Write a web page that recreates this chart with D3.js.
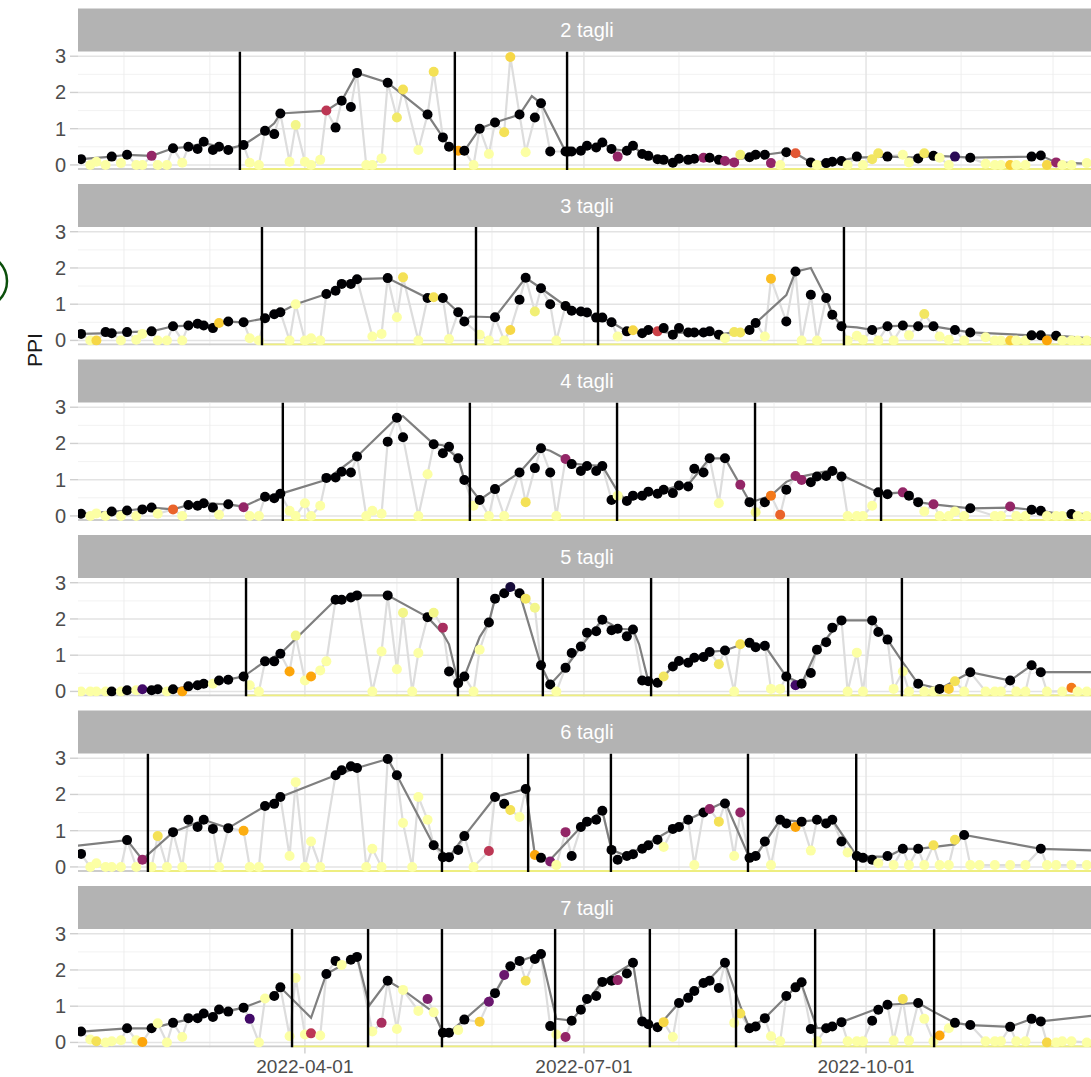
<!DOCTYPE html>
<html>
<head>
<meta charset="utf-8">
<script src="https://cdnjs.cloudflare.com/ajax/libs/d3/7.8.5/d3.min.js"></script>
<style>
  body { margin: 0; background: #fff; }
  svg { display: block; }
  text { font-family: "Liberation Sans", Arial, Helvetica, sans-serif; }
</style>
</head>
<body>
<div id="chart"></div>
<script>
// facet labels
const panelNames = ["2 tagli", "3 tagli", "4 tagli", "5 tagli", "6 tagli", "7 tagli"];
const yTicks = [0, 1, 2, 3];
const xTickLabels = ["2022-04-01", "2022-07-01", "2022-10-01"];

// observations: [days after 1 Jan 2022, PPI, colour value (0 = black ... 1 = pale yellow)]
const obs2 = [[17,.16,0],[20,0,1],[22,.09,1],[25,0,1],[27,.23,0],[30,.05,1],[32,.28,0],[35,0,1],[37,0,1],[40,.25,.4],
  [42,0,1],[45,0,1],[47,.46,0],[50,.06,1],[52,.5,0],[55,.44,0],[57,.64,0],[60,.41,0],[62,.5,0],[65,.41,0],
  [70,.55,0],[72,.06,1],[75,0,1],[77,.94,0],[80,.85,0],[82,1.42,0],[85,.09,1],[87,1.1,.97],[90,.09,1],[92,0,1],
  [95,.14,1],[97,1.5,.5],[100,1.03,0],[102,1.77,0],[105,1.6,0],[107,2.54,0],[110,0,1],[112,0,1],[115,.18,1],[117,2.27,0],
  [120,1.31,.94],[122,2.08,.92],[127,.41,1],[130,1.39,0],[132,2.57,.92],[135,.76,0],[137,.5,0],[140,.39,.8],[142,.39,0],[145,0,1],
  [147,1.0,0],[150,.3,1],[152,1.17,0],[155,.9,.92],[157,2.98,.9],[160,1.39,0],[162,.35,1],[165,1.31,0],[167,1.7,0],[170,.37,0],
  [175,.37,0],[176,.37,0],[177,.37,0],[180,.39,0],[182,.53,0],[185,.48,0],[187,.62,0],[190,.44,0],[192,.23,.4],[195,.39,0],
  [197,.53,0],[200,.3,0],[202,.25,0],[205,.16,0],[207,.14,0],[210,.06,0],[212,.17,0],[215,.14,0],[217,.17,0],[220,.2,.4],
  [222,.2,0],[225,.14,0],[227,.11,.4],[230,.07,.4],[232,.28,.95],[235,.21,0],[237,.28,0],[240,.28,0],[242,.05,.4],[245,0,1],
  [247,.35,0],[250,.32,.62],[255,.07,0],[257,0,1],[260,.05,0],[262,.09,0],[265,.11,0],[267,0,1],[270,.23,0],[272,0,1],
  [275,.16,.93],[277,.32,.93],[280,.23,0],[285,.28,1],[287,.07,1],[290,.18,0],[292,.32,.93],[295,.25,0],[297,.2,1],[300,0,1],
  [302,.23,.15],[307,.2,0],[312,.03,1],[315,0,1],[317,0,1],[320,0,.88],[322,0,1],[325,0,1],[327,.23,0],[330,.26,0],
  [332,0,.9],[335,.07,.4],[337,0,1],[340,0,1],[345,.05,1]];
const obs3 = [[17,.18,0],[20,0,1],[22,0,.9],[25,.23,0],[27,.2,0],[30,0,1],[32,.23,0],[35,.02,1],[37,.18,1],[40,.25,0],
  [42,0,1],[45,0,1],[47,.39,0],[50,0,1],[52,.41,0],[55,.46,0],[57,.41,0],[60,.34,0],[62,.48,.88],[65,.52,0],
  [70,.5,0],[72,.06,1],[75,0,1],[77,.61,0],[80,.72,0],[82,.78,0],[85,0,1],[87,1.0,1],[90,0,1],[92,.06,1],
  [95,0,1],[97,1.28,0],[100,1.37,0],[102,1.56,0],[105,1.56,0],[107,1.69,0],[112,.11,1],[115,.18,1],[117,1.72,0],[120,.64,1],
  [122,1.74,.92],[127,0,1],[130,1.17,0],[132,1.19,.92],[135,1.17,0],[137,.04,1],[140,.78,0],[142,.52,0],[147,.16,1],[150,0,1],
  [152,.64,0],[155,0,1],[157,.29,.9],[160,1.12,0],[162,1.73,0],[165,.8,.95],[167,1.44,0],[170,1.0,0],[172,0,1],[175,.95,0],
  [177,.82,0],[180,.8,0],[182,.77,0],[185,.63,0],[187,.63,0],[190,.5,0],[192,.11,1],[195,.25,0],[197,.28,.9],[200,.2,0],
  [202,.29,0],[205,.25,.55],[207,.34,0],[210,.16,0],[212,.34,0],[215,.22,0],[217,.22,0],[220,.22,0],[222,.25,0],[225,.16,0],
  [227,.06,1],[230,.23,.93],[232,.22,.93],[235,.29,0],[237,.48,0],[240,.11,1],[242,1.7,.85],[247,.52,0],[250,1.9,0],[252,0,1],
  [255,1.26,0],[257,0,1],[260,1.17,0],[262,.71,0],[265,.39,0],[267,0,1],[270,.13,1],[272,.02,1],[275,.29,0],[277,0,1],
  [280,.39,0],[282,0,1],[285,.41,0],[287,.14,1],[290,.39,0],[292,.73,.93],[295,.39,0],[297,.11,1],[300,.02,1],[302,.29,0],
  [305,0,1],[307,.22,0],[312,.09,1],[315,0,1],[317,0,1],[320,0,.88],[322,0,1],[325,0,1],[327,.14,0],[330,.14,0],
  [332,0,.8],[335,.13,0],[337,0,1],[340,0,1],[342,0,1],[345,0,1]];
const obs4 = [[17,.06,0],[20,0,1],[22,.07,1],[25,0,1],[27,.12,0],[30,0,1],[32,.15,0],[35,0,1],[37,.18,0],[40,.23,0],
  [42,.06,1],[47,.18,.65],[50,0,1],[52,.3,0],[55,.28,0],[57,.35,0],[60,.23,0],[62,.03,1],[65,.32,0],[70,.24,.4],
  [72,0,1],[75,0,1],[77,.53,0],[80,.49,0],[82,.61,0],[85,.14,1],[87,0,1],[90,.35,1],[92,0,1],[95,.28,1],
  [97,1.05,0],[100,1.06,0],[102,1.22,0],[105,1.2,0],[107,1.64,0],[110,0,1],[112,.14,1],[115,.06,1],[117,2.05,0],[120,2.71,0],
  [122,2.17,0],[127,0,1],[130,1.15,1],[132,1.98,0],[135,1.73,0],[137,1.91,0],[140,1.59,0],[142,.99,0],[145,.28,1],[147,.44,0],
  [150,0,1],[152,.74,0],[155,0,1],[160,1.2,0],[162,.38,.92],[165,1.32,0],[167,1.87,0],[170,1.2,0],[172,0,1],[175,1.57,.4],
  [177,1.43,0],[180,1.24,0],[182,1.38,0],[185,1.24,0],[187,1.38,0],[190,.44,0],[192,.56,1],[195,.41,0],[197,.56,0],[200,.56,0],
  [202,.67,0],[205,.61,0],[207,.72,0],[210,.63,0],[212,.84,0],[215,.81,0],[217,1.3,0],[220,1.2,0],[222,1.59,0],[225,.35,1],
  [227,1.59,0],[232,.86,.4],[235,.38,0],[237,.1,.97],[240,.38,0],[242,.56,.7],[245,.03,.65],[247,.72,0],[250,1.1,.4],[252,.99,.4],
  [255,.93,0],[257,1.09,0],[260,1.1,0],[262,1.24,0],[265,1.09,0],[267,0,1],[270,0,1],[272,0,1],[275,.28,1],[277,.65,0],
  [280,.6,0],[285,.65,.4],[287,.56,0],[290,.38,0],[292,.12,1],[295,.32,.4],[297,0,1],[300,0,1],[302,.12,1],[305,0,1],
  [307,.21,0],[315,0,1],[317,0,1],[320,.26,.4],[322,0,1],[325,0,1],[327,.17,0],[330,.14,0],[332,0,1],[335,0,1],
  [337,0,1],[340,.05,0],[342,0,1],[345,0,1]];
const obs5 = [[17,0,1],[20,0,1],[22,0,1],[25,0,1],[27,0,0],[30,0,1],[32,.03,0],[35,.03,1],[37,.06,.2],[40,.03,0],
  [42,.06,0],[45,0,1],[47,.06,0],[50,0,.8],[52,.14,0],[55,.17,0],[57,.21,0],[60,.21,1],[62,.3,0],[65,.32,0],
  [70,.41,0],[72,.17,1],[75,0,1],[77,.83,0],[80,.83,0],[82,1.04,0],[85,.55,.8],[87,1.54,.97],[90,.3,1],[92,.41,.8],
  [95,.58,1],[97,.83,1],[100,2.53,0],[102,2.53,0],[105,2.59,0],[107,2.65,0],[112,0,1],[115,1.1,1],[117,2.65,0],[120,.61,1],
  [122,2.17,.97],[125,0,1],[127,1.06,1],[130,2.05,0],[132,2.17,.97],[135,1.76,.45],[137,.55,0],[140,.23,0],[142,.41,0],[145,0,1],
  [147,1.15,1],[150,1.9,0],[152,2.56,0],[155,2.71,0],[157,2.88,.1],[160,2.71,0],[162,2.56,.93],[165,2.31,.97],[167,.72,0],[170,.19,0],
  [172,0,1],[175,.65,0],[177,1.06,0],[180,1.24,0],[182,1.62,0],[185,1.66,0],[187,1.98,0],[190,1.69,0],[192,1.73,0],[195,1.52,0],
  [197,1.71,0],[200,.3,0],[202,.28,0],[205,.24,0],[207,.41,.93],[210,.69,0],[212,.84,0],[215,.79,0],[217,.93,0],[220,.95,0],
  [222,1.09,0],[225,.75,.93],[227,1.13,0],[230,0,1],[232,1.3,.92],[235,1.34,0],[237,1.22,0],[240,1.26,0],[242,.07,1],[245,.07,1],
  [247,.41,0],[250,.17,.2],[252,.21,0],[255,.51,0],[257,1.15,0],[260,1.36,0],[262,1.76,0],[265,1.96,0],[267,0,1],[270,1.07,1],
  [272,0,1],[275,1.96,0],[277,1.64,0],[280,1.43,0],[282,.07,1],[285,.55,1],[287,0,1],[290,.21,0],[292,0,1],[295,0,1],
  [297,.07,0],[300,.07,.88],[302,.28,.92],[305,0,1],[307,.53,0],[312,0,1],[315,0,1],[317,0,1],[320,.3,0],[322,0,1],
  [325,0,1],[327,.72,0],[330,.53,0],[332,0,1],[337,0,1],[340,.1,.7],[342,0,1],[345,0,1]];
const obs6 = [[17,.36,0],[20,0,1],[22,.1,1],[25,0,1],[27,0,1],[30,0,1],[32,.74,0],[35,0,1],[37,.2,.4],[40,0,1],
  [42,.85,.92],[45,0,1],[47,.96,0],[50,0,1],[52,1.3,0],[55,1.1,0],[57,1.3,0],[60,1.05,0],[62,0,1],[65,1.07,0],
  [70,1.0,.82],[72,0,1],[75,0,1],[77,1.68,0],[80,1.74,0],[82,1.93,0],[85,.3,1],[87,2.34,1],[90,0,1],[92,.7,1],
  [95,0,1],[100,2.53,0],[102,2.67,0],[105,2.78,0],[107,2.73,0],[110,0,1],[112,.5,1],[115,0,1],[117,2.98,0],[120,2.53,0],
  [122,1.21,1],[125,0,1],[127,1.93,1],[130,1.3,1],[132,.6,0],[135,.27,0],[137,.27,0],[140,.47,0],[142,.85,0],[145,0,1],
  [150,.44,.5],[152,1.93,0],[155,1.74,0],[157,1.57,.92],[160,1.38,1],[162,2.15,0],[165,.33,.8],[167,.25,0],[170,.15,.35],[172,.05,1],
  [175,.96,.4],[177,.3,0],[180,1.1,0],[182,1.25,0],[185,1.3,0],[187,1.55,0],[190,.47,0],[192,.2,0],[195,.3,0],[197,.35,0],
  [200,.5,0],[202,.6,0],[205,.75,0],[207,.55,1],[210,1.05,0],[212,1.1,0],[215,1.3,0],[217,.05,1],[220,1.5,0],[222,1.6,.4],
  [225,1.25,.92],[227,1.75,0],[230,.3,1],[232,1.5,.4],[235,.25,0],[237,.3,0],[240,.7,0],[242,.05,1],[245,1.3,0],[247,1.2,0],
  [250,1.1,.8],[252,1.25,0],[255,.45,1],[257,1.3,0],[260,1.2,0],[262,1.3,0],[265,.7,0],[267,.4,1],[270,.3,0],[272,.25,0],
  [275,.2,0],[277,.1,1],[280,.3,0],[282,.05,1],[285,.5,0],[287,.05,1],[290,.5,0],[292,.05,1],[295,.6,.92],[297,.05,1],
  [300,.05,1],[302,.75,.92],[305,.88,0],[307,.05,1],[310,.05,1],[315,.05,1],[320,.05,1],[325,.05,1],[330,.5,0],[332,.05,1],
  [335,.05,1],[340,.05,1],[345,.05,1]];
const obs7 = [[17,.3,0],[20,.08,1],[22,.03,.92],[25,0,1],[27,.03,1],[30,.06,1],[32,.39,0],[35,.06,1],[37,.01,.8],[40,.39,0],
  [42,.53,1],[45,0,1],[47,.54,0],[50,.15,1],[52,.67,0],[55,.67,0],[57,.8,0],[60,.7,0],[62,.91,0],[65,.85,0],
  [70,.96,0],[72,.65,.2],[75,0,1],[77,1.21,1],[80,1.28,0],[82,1.52,0],[85,.17,1],[87,1.78,1],[90,.22,1],[92,.25,.5],
  [95,.19,1],[97,1.89,0],[100,2.25,0],[102,2.14,1],[105,2.28,0],[107,2.36,0],[112,.3,1],[115,.54,.45],[117,1.7,0],[120,.37,1],
  [122,1.45,1],[127,.87,1],[130,1.2,.35],[132,.83,1],[135,.27,0],[137,.27,0],[140,.34,1],[142,.63,0],[147,.57,.88],[150,1.12,.3],
  [152,1.36,0],[155,1.86,.3],[157,2.1,0],[160,2.25,0],[162,1.7,.92],[165,2.3,0],[167,2.44,0],[170,.45,0],[172,.22,1],[175,.15,.4],
  [177,.6,0],[180,.9,0],[182,1.2,0],[185,1.28,0],[187,1.67,0],[190,1.7,0],[192,1.72,.4],[195,1.9,0],[197,2.2,0],[200,.58,0],
  [202,.5,0],[205,.42,0],[207,.56,.9],[210,.15,1],[212,1.09,0],[215,1.23,0],[217,1.42,0],[220,1.64,0],[222,1.7,0],[225,1.5,0],
  [227,2.2,0],[230,.54,1],[232,.8,.92],[235,.39,0],[237,.44,0],[240,.67,0],[242,.17,1],[245,.03,1],[247,1.28,0],[250,1.52,0],
  [252,1.66,0],[255,.37,0],[257,.03,1],[260,.39,0],[262,.44,0],[265,.56,0],[267,.03,1],[270,.03,1],[272,.03,1],[275,.6,0],
  [277,.9,0],[280,1.04,0],[282,.05,1],[285,1.2,.92],[287,.05,1],[290,1.09,0],[292,.65,1],[295,.03,1],[297,.19,.8],[300,.39,1],
  [302,.54,0],[307,.48,0],[312,.03,1],[315,.03,1],[317,.03,1],[320,.43,0],[322,.03,1],[325,.03,1],[327,.65,0],[330,.58,0],
  [332,0,.9],[335,0,1],[337,.03,1],[340,.03,1],[345,0,1]];

// dark grey reference curve: [days after 1 Jan 2022, PPI]
const smooth2 = [[17,.16],[27,.23],[32,.28],[40,.25],[47,.46],[52,.5],[57,.6],[60,.55],[62,.5],[65,.45],[70,.55],[77,.94],
  [80,1.15],[82,1.42],[97,1.5],[102,1.77],[107,2.54],[117,2.27],[130,1.39],[135,.76],[137,.5],[140,.39],[142,.39],[147,1.0],
  [152,1.17],[160,1.39],[164,1.9],[167,1.7],[175,.37],[180,.39],[182,.53],[185,.48],[187,.62],[190,.44],[195,.39],[197,.53],
  [200,.3],[205,.16],[210,.1],[215,.14],[220,.18],[225,.14],[227,.11],[235,.21],[240,.28],[247,.36],[250,.32],[255,.07],
  [262,.09],[270,.2],[280,.23],[290,.2],[295,.25],[302,.23],[307,.2],[327,.23],[330,.26],[335,.07],[348,.02]];
const smooth3 = [[17,.18],[27,.2],[32,.23],[40,.25],[47,.39],[52,.41],[55,.46],[60,.4],[65,.52],[70,.5],[77,.61],[80,.72],
  [82,.78],[87,1.0],[97,1.28],[100,1.37],[102,1.56],[105,1.56],[107,1.69],[117,1.72],[130,1.17],[135,1.17],[140,.78],[142,.52],
  [144,.66],[152,.64],[162,1.73],[167,1.44],[175,.95],[180,.8],[185,.63],[187,.63],[190,.5],[195,.25],[200,.22],[205,.25],
  [210,.2],[215,.22],[225,.16],[235,.3],[237,.48],[247,1.25],[250,1.9],[255,2.0],[260,1.17],[262,.73],[265,.39],[270,.36],
  [275,.29],[280,.39],[285,.41],[290,.39],[295,.39],[302,.29],[307,.22],[327,.14],[330,.14],[335,.13],[348,.05]];
const smooth4 = [[17,.06],[27,.12],[32,.15],[40,.23],[47,.18],[52,.3],[57,.35],[65,.32],[70,.26],[77,.53],[82,.61],[97,1.0],
  [107,1.64],[120,2.71],[122,2.75],[132,1.98],[135,1.95],[140,1.59],[142,.99],[147,.44],[152,.74],[160,1.2],[167,1.87],[170,1.8],
  [175,1.57],[177,1.45],[182,1.4],[187,1.38],[192,.67],[195,.41],[212,.84],[215,.86],[222,1.59],[227,1.59],[235,.4],[237,.42],
  [242,.56],[247,.94],[250,1.05],[262,1.27],[265,1.13],[277,.65],[280,.62],[285,.65],[290,.38],[295,.32],[307,.21],[320,.23],
  [327,.17],[330,.14],[335,.07],[348,.05]];
const smooth5 = [[27,.02],[32,.03],[47,.06],[52,.14],[70,.41],[77,.83],[82,1.04],[100,2.53],[107,2.65],[117,2.65],[130,2.05],
  [135,1.6],[137,1.3],[140,.23],[142,.41],[147,1.5],[150,1.9],[152,2.56],[157,2.88],[160,2.71],[167,.72],[170,.19],[175,.65],
  [180,1.24],[187,1.98],[190,1.85],[192,1.73],[197,1.71],[199,1.3],[202,.28],[205,.24],[210,.69],[217,.93],[222,1.09],[227,1.13],
  [232,1.28],[235,1.34],[240,1.26],[247,.41],[252,.21],[257,1.15],[265,1.96],[275,1.96],[280,1.43],[285,.8],[290,.21],[297,.07],
  [307,.53],[320,.3],[327,.72],[330,.53],[348,.53]];
const smooth6 = [[12,.55],[32,.74],[37,.2],[47,.96],[57,1.3],[65,1.07],[82,1.93],[100,2.53],[107,2.73],[117,2.98],[120,2.53],
  [132,.6],[137,.27],[142,.85],[152,1.93],[162,2.15],[165,.33],[170,.2],[180,1.1],[187,1.55],[190,.47],[195,.3],[215,1.3],
  [222,1.6],[227,1.8],[235,.25],[237,.3],[245,1.3],[252,1.25],[257,1.3],[262,1.3],[270,.3],[280,.28],[285,.5],[290,.5],
  [302,.62],[305,.88],[330,.5],[348,.45]];
const smooth7 = [[17,.3],[32,.39],[40,.39],[47,.54],[70,.96],[80,1.28],[82,1.52],[92,.68],[97,1.89],[107,2.36],[111,1.02],
  [117,1.7],[122,1.45],[132,.83],[135,.27],[137,.27],[142,.63],[152,1.36],[157,2.1],[162,2.3],[167,2.44],[172,.65],[177,.6],
  [187,1.67],[197,2.2],[200,.58],[205,.42],[212,1.09],[222,1.75],[227,2.2],[232,1.0],[235,.39],[240,.67],[250,1.52],[252,1.6],
  [257,.4],[260,.39],[265,.56],[280,1.04],[290,1.09],[295,.85],[302,.54],[307,.48],[320,.43],[327,.65],[330,.58],[348,.75]];

// cutting dates (days after 1 Jan 2022)
const cuts2 = [68.8, 138.9, 175.5];
const cuts3 = [76, 145.8, 185.6, 265.8];
const cuts4 = [82.8, 143.8, 191.8, 236.8, 277.9];
const cuts5 = [70.8, 139.9, 167.6, 202.9, 247.6, 284.7];
const cuts6 = [38.8, 134.7, 162.8, 189.8, 234.5, 269.8];
const cuts7 = [85.8, 110.6, 134.7, 171.6, 202.5, 230.6, 256.4, 295.2];

const panels = panelNames.map((name, i) => ({
  name,
  obs: [obs2, obs3, obs4, obs5, obs6, obs7][i],
  smooth: [smooth2, smooth3, smooth4, smooth5, smooth6, smooth7][i],
  cuts: [cuts2, cuts3, cuts4, cuts5, cuts6, cuts7][i]
}));

const W = 1091, H = 1077;
const left = 78, right = 1096;
const top0 = 8.5, step = 175.5, stripH = 43, plotH = 118.5;

const day = d => new Date(Date.UTC(2022, 0, 1) + d * 864e5);

const x = d3.scaleUtc().domain([day(16), day(348)]).range([left, right]);
const y = d3.scaleLinear().domain([-0.14, 3.13]).range([plotH, 0]);
const colour = c => d3.interpolateInferno(c);

const majorX = xTickLabels.map(s => new Date(s + "T00:00:00Z"));
const minorX = d3.utcMonth.range(day(16), day(348)).filter(m => m.getUTCMonth() % 3 !== 0);

const svg = d3.select("#chart").append("svg")
  .attr("width", W).attr("height", H);

svg.append("defs").append("clipPath").attr("id", "clip")
  .append("rect").attr("x", left).attr("y", 0).attr("width", right - left).attr("height", plotH);

// y axis title
svg.append("text")
  .attr("transform", "translate(42,350) rotate(-90)")
  .attr("text-anchor", "middle")
  .style("font-size", "21px")
  .style("fill", "#1a1a1a")
  .text("PPI");

// partial circle at the left edge
svg.append("circle")
  .attr("cx", -20).attr("cy", 281).attr("r", 27)
  .attr("fill", "none").attr("stroke", "#0b4f0b").attr("stroke-width", 2.5);

const lineFn = d3.line().x(d => x(day(d[0]))).y(d => y(d[1]));

panels.forEach((p, i) => {
  const g = svg.append("g").attr("transform", `translate(0,${top0 + i * step})`);

  // strip
  g.append("rect").attr("x", left).attr("y", 0).attr("width", right - left).attr("height", stripH)
    .attr("fill", "#b3b3b3");
  g.append("text").attr("x", (left + right) / 2).attr("y", stripH / 2)
    .attr("text-anchor", "middle").attr("dominant-baseline", "central")
    .style("font-size", "20px").style("fill", "#fff").text(p.name);

  const pg = g.append("g").attr("transform", `translate(0,${stripH})`);

  // grid
  pg.selectAll(".ymin").data([0.5, 1.5, 2.5]).join("line")
    .attr("x1", left).attr("x2", right).attr("y1", d => y(d)).attr("y2", d => y(d))
    .attr("stroke", "#f0f0f0").attr("stroke-width", 0.9);
  pg.selectAll(".xmin").data(minorX).join("line")
    .attr("x1", d => x(d)).attr("x2", d => x(d)).attr("y1", 0).attr("y2", plotH)
    .attr("stroke", "#ececec").attr("stroke-width", 0.9);
  pg.selectAll(".ymaj").data(yTicks).join("line")
    .attr("x1", left).attr("x2", right).attr("y1", d => y(d)).attr("y2", d => y(d))
    .attr("stroke", "#e3e3e3").attr("stroke-width", 1.4);
  pg.selectAll(".xmaj").data(majorX).join("line")
    .attr("x1", d => x(d)).attr("x2", d => x(d)).attr("y1", 0).attr("y2", plotH)
    .attr("stroke", "#e3e3e3").attr("stroke-width", 1.4);

  // y ticks + labels
  pg.selectAll(".ytick").data(yTicks).join("line")
    .attr("x1", left - 8).attr("x2", left).attr("y1", d => y(d)).attr("y2", d => y(d))
    .attr("stroke", "#cfcfcf").attr("stroke-width", 1.4);
  pg.selectAll(".ylab").data(yTicks).join("text")
    .attr("x", left - 12).attr("y", d => y(d)).attr("dominant-baseline", "central")
    .attr("text-anchor", "end").style("font-size", "20px").style("fill", "#4d4d4d")
    .text(d => d);

  const inner = pg.append("g").attr("clip-path", "url(#clip)");

  // baseline: grey before first cut, yellow afterwards
  inner.append("line").attr("x1", left).attr("x2", right).attr("y1", plotH - 1).attr("y2", plotH - 1)
    .attr("stroke", "#cccccc").attr("stroke-width", 2);
  inner.append("line").attr("x1", x(day(p.cuts[0]))).attr("x2", right).attr("y1", plotH - 1).attr("y2", plotH - 1)
    .attr("stroke", "#eeee80").attr("stroke-width", 2);

  // all observations
  inner.append("path").datum(p.obs).attr("d", lineFn)
    .attr("fill", "none").attr("stroke", "#dddddd").attr("stroke-width", 2.2);
  // reference curve
  inner.append("path").datum(p.smooth).attr("d", lineFn)
    .attr("fill", "none").attr("stroke", "#7f7f7f").attr("stroke-width", 2.2);

  inner.selectAll(".pt").data(p.obs).join("circle")
    .attr("cx", d => x(day(d[0]))).attr("cy", d => y(d[1])).attr("r", 5)
    .attr("fill", d => colour(d[2]));

  inner.selectAll(".cut").data(p.cuts).join("line")
    .attr("x1", d => x(day(d))).attr("x2", d => x(day(d))).attr("y1", 0).attr("y2", plotH)
    .attr("stroke", "#000").attr("stroke-width", 2.4);

  if (i === panels.length - 1) {
    pg.selectAll(".xtick").data(majorX).join("line")
      .attr("x1", d => x(d)).attr("x2", d => x(d)).attr("y1", plotH).attr("y2", plotH + 6)
      .attr("stroke", "#cfcfcf").attr("stroke-width", 1.4);
    pg.selectAll(".xlab").data(majorX).join("text")
      .attr("x", d => x(d)).attr("y", plotH + 25)
      .attr("text-anchor", "middle").style("font-size", "19px").style("fill", "#4d4d4d")
      .text((d, k) => xTickLabels[k]);
  }
});
</script>
</body>
</html>
